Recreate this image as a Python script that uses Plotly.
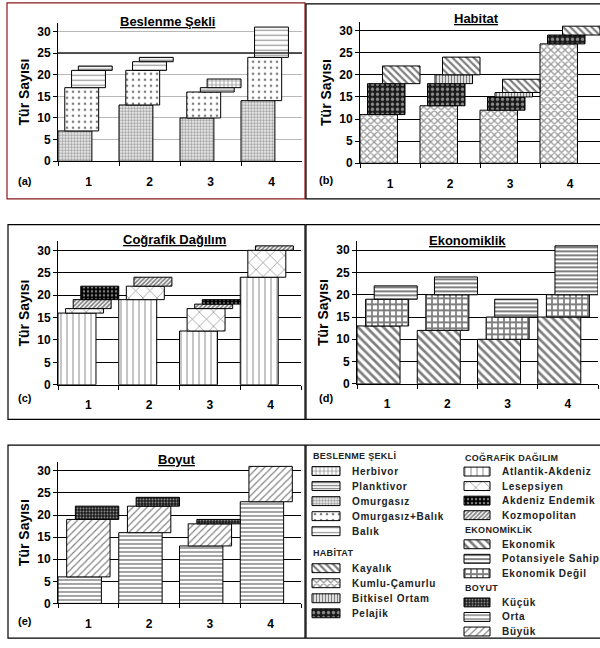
import plotly.graph_objects as go

W, H = 600, 648
FONT = "Liberation Sans, Arial, sans-serif"

categories = ["1", "2", "3", "4"]
y_ticks = [0, 5, 10, 15, 20, 25, 30]

# Beslenme Şekli (stacked bottom -> top)
bes_omurgasiz = [7, 13, 10, 14]
bes_omurgasiz_balik = [10, 8, 6, 10]
bes_balik = [4, 2, 0, 7]
bes_planktivor = [1, 1, 1, 0]
bes_herbivor = [0, 0, 2, 0]

# Habitat
hab_kumlu = [11, 13, 12, 27]
hab_pelajik = [7, 5, 3, 2]
hab_bitkisel = [0, 2, 1, 0]
hab_kayalik = [4, 4, 3, 2]

# Coğrafik Dağılım
cog_atlantik = [16, 19, 12, 24]
cog_lesepsiyen = [1, 3, 5, 6]
cog_kozmopolitan = [2, 2, 1, 1]
cog_endemik = [3, 0, 1, 0]

# Ekonomiklik
eko_ekonomik = [13, 12, 10, 15]
eko_degil = [6, 8, 5, 5]
eko_potansiyel = [3, 4, 4, 11]

# Boyut
boy_orta = [6, 16, 13, 23]
boy_buyuk = [13, 6, 5, 8]
boy_kucuk = [3, 2, 1, 0]

# fill pattern per group: shape, size, solidity, fg, bg
PATTERNS = {
    "Herbivor": ("+", 4, 0.3, "black", "white"),
    "Planktivor": ("-", 3, 0.4, "black", "white"),
    "Omurgasız": (".", 3, 0.6, "#444", "white"),
    "Omurgasız+Balık": (".", 6, 0.15, "black", "white"),
    "Balık": ("-", 5, 0.25, "#333", "white"),
    "Kayalık": ("\\", 5, 0.45, "black", "white"),
    "Kumlu-Çamurlu": ("x", 5, 0.45, "#333", "white"),
    "Bitkisel Ortam": ("|", 3, 0.5, "black", "white"),
    "Pelajik": (".", 5, 0.35, "white", "#1a1a1a"),
    "Atlantik-Akdeniz": ("|", 6, 0.15, "black", "white"),
    "Lesepsiyen": ("x", 10, 0.12, "black", "white"),
    "Akdeniz Endemik": (".", 4, 0.3, "white", "black"),
    "Kozmopolitan": ("/", 3, 0.55, "black", "white"),
    "Ekonomik": ("\\", 6, 0.45, "black", "white"),
    "Potansiyele Sahip": ("-", 4, 0.5, "black", "white"),
    "Ekonomik Değil": ("+", 6, 0.5, "black", "white"),
    "Küçük": (".", 3, 0.35, "white", "#1a1a1a"),
    "Orta": ("-", 4, 0.45, "#333", "white"),
    "Büyük": ("/", 5, 0.22, "black", "white"),
}


def marker_for(name):
    shape, size, sol, fg, bg = PATTERNS[name]
    return dict(color=bg, line=dict(color="black", width=1),
                pattern=dict(shape=shape, size=size, solidity=sol,
                             fgcolor=fg, bgcolor=bg, fillmode="overlay"))


def px(x):
    return x / W


def py(y):
    return 1 - y / H


panels = [
    dict(tag="(a)", title="Beslenme Şekli",
         series=[("Omurgasız", bes_omurgasiz), ("Omurgasız+Balık", bes_omurgasiz_balik),
                 ("Balık", bes_balik), ("Planktivor", bes_planktivor), ("Herbivor", bes_herbivor)],
         box=(58, 302, 163, 23), title_at=(167, 22), tag_at=(25, 183),
         frame=(7, 305, 3, 201), frame_color="#8b1a1a", grid="#b8b8b8"),
    dict(tag="(b)", title="Habitat",
         series=[("Kumlu-Çamurlu", hab_kumlu), ("Pelajik", hab_pelajik),
                 ("Bitkisel Ortam", hab_bitkisel), ("Kayalık", hab_kayalik)],
         box=(360, 600, 165, 22), title_at=(476, 19), tag_at=(326, 182),
         frame=(306, 602, 4, 201), frame_color="black", grid="black"),
    dict(tag="(c)", title="Coğrafik Dağılım",
         series=[("Atlantik-Akdeniz", cog_atlantik), ("Lesepsiyen", cog_lesepsiyen),
                 ("Kozmopolitan", cog_kozmopolitan), ("Akdeniz Endemik", cog_endemik)],
         box=(58, 301, 389, 244), title_at=(174, 242), tag_at=(25, 402),
         frame=(8, 305, 227, 424), frame_color="black", grid="black"),
    dict(tag="(d)", title="Ekonomiklik",
         series=[("Ekonomik", eko_ekonomik), ("Ekonomik Değil", eko_degil),
                 ("Potansiyele Sahip", eko_potansiyel)],
         box=(357, 598, 388, 244), title_at=(467, 243), tag_at=(326, 402),
         frame=(306, 602, 227, 424), frame_color="black", grid="black"),
    dict(tag="(e)", title="Boyut",
         series=[("Orta", boy_orta), ("Büyük", boy_buyuk), ("Küçük", boy_kucuk)],
         box=(58, 301, 610, 467), title_at=(177, 465), tag_at=(25, 628),
         frame=(8, 305, 450, 645), frame_color="black", grid="black"),
]

fig = go.Figure()
shapes, annotations = [], []
layout_axes = {}

for i, p in enumerate(panels):
    n = i + 1
    xa, ya = ("x", "y") if n == 1 else (f"x{n}", f"y{n}")
    xkey, ykey = ("xaxis", "yaxis") if n == 1 else (f"xaxis{n}", f"yaxis{n}")
    count = len(p["series"])
    width = 1 / (1 + 0.2 * (count - 1))
    step = 0.2 * width
    base = [0] * len(categories)
    for k, (name, vals) in enumerate(p["series"]):
        fig.add_bar(x=categories, y=[v if v else None for v in vals], base=list(base),
                    offset=-0.5 + k * step, width=width, name=name,
                    marker=marker_for(name), xaxis=xa, yaxis=ya, showlegend=False)
        base = [b + v for b, v in zip(base, vals)]

    left, right, bottom, top = p["box"]
    layout_axes[xkey] = dict(
        domain=[px(left), px(right)], anchor=ya, type="category",
        range=[-0.5, 3.5], showline=True, linecolor="black", linewidth=1,
        ticks="outside", tickson="boundaries", ticklen=4, tickcolor="black",
        showgrid=False, ticklabelstandoff=9,
        tickfont=dict(family=FONT, size=12, color="black", weight="bold"))
    layout_axes[ykey] = dict(
        domain=[py(bottom), py(top)], anchor=xa, range=[0, 32],
        tickvals=y_ticks, showline=True, linecolor="black", linewidth=1,
        ticks="outside", ticklen=4, tickcolor="black",
        showgrid=True, gridcolor=p["grid"], gridwidth=1, zeroline=False,
        tickfont=dict(family=FONT, size=12, color="black", weight="bold"),
        title=dict(text="Tür Sayısı", standoff=4,
                   font=dict(family=FONT, size=14, color="black", weight="bold")))

    fx0, fx1, fy0, fy1 = p["frame"]
    shapes.append(dict(type="rect", xref="paper", yref="paper",
                       x0=px(fx0), x1=px(fx1), y0=py(fy1), y1=py(fy0),
                       line=dict(color=p["frame_color"], width=1.2)))
    tx, ty = p["title_at"]
    annotations.append(dict(text=f"<u>{p['title']}</u>", x=px(tx), y=py(ty),
                            xref="paper", yref="paper", showarrow=False,
                            xanchor="center", yanchor="middle",
                            font=dict(family=FONT, size=13, color="black", weight="bold")))
    gx, gy = p["tag_at"]
    annotations.append(dict(text=p["tag"], x=px(gx), y=py(gy), xref="paper", yref="paper",
                            showarrow=False, xanchor="center", yanchor="middle",
                            font=dict(family=FONT, size=11, color="black", weight="bold")))

# darker reference line at 25 in the first panel
shapes.append(dict(type="line", xref="x domain", yref="y", x0=0, x1=1, y0=25, y1=25,
                   line=dict(color="#222", width=1.5)))

# key box
LEG = (306, 602, 450, 645)
shapes.append(dict(type="rect", xref="paper", yref="paper",
                   x0=px(LEG[0]), x1=px(LEG[1]), y0=py(LEG[3]), y1=py(LEG[2]),
                   line=dict(color="black", width=1.2)))

key_left = ["#BESLENME ŞEKLİ", "Herbivor", "Planktivor", "Omurgasız", "Omurgasız+Balık", "Balık",
            None, "#HABİTAT", "Kayalık", "Kumlu-Çamurlu", "Bitkisel Ortam", "Pelajik"]
key_right = ["#COĞRAFİK DAĞILIM", "Atlantik-Akdeniz", "Lesepsiyen", "Akdeniz Endemik", "Kozmopolitan",
             "#EKONOMİKLİK", "Ekonomik", "Potansiyele Sahip", "Ekonomik Değil",
             "#BOYUT", "Küçük", "Orta", "Büyük"]

key_columns = [
    dict(entries=key_left, start=461, step=15.2, gap=7, swatch=(312, 340), text_x=350),
    dict(entries=key_right, start=462, step=14.7, gap=7, swatch=(464, 490), text_x=500),
]

for col in key_columns:
    y = col["start"]
    s0, s1 = col["swatch"]
    for entry in col["entries"]:
        if entry is None:
            y += col["gap"]
            continue
        if entry.startswith("#"):
            annotations.append(dict(
                text=f'<span style="letter-spacing:0.3px">{entry[1:]}</span>',
                x=px(s0 - 1), y=py(y), xref="paper", yref="paper", showarrow=False,
                xanchor="left", yanchor="middle",
                font=dict(family=FONT, size=9, color="#222", weight="bold")))
        else:
            annotations.append(dict(
                text=f'<span style="letter-spacing:0.7px">{entry}</span>',
                x=px(col["text_x"]), y=py(y), xref="paper", yref="paper", showarrow=False,
                xanchor="left", yanchor="middle",
                font=dict(family=FONT, size=10, color="#222", weight="bold")))
            fig.add_bar(x=[(s0 + s1) / 2], y=[9], base=[y - 4.5], width=[s1 - s0],
                        name=entry, marker=marker_for(entry), xaxis="x6", yaxis="y6",
                        showlegend=False)
        y += col["step"]

layout_axes["xaxis6"] = dict(domain=[px(LEG[0]), 1], range=[LEG[0], W], anchor="y6",
                             visible=False, fixedrange=True)
layout_axes["yaxis6"] = dict(domain=[py(LEG[3]), py(LEG[2])], range=[LEG[3], LEG[2]],
                             anchor="x6", visible=False, fixedrange=True)

fig.update_layout(
    width=W, height=H, margin=dict(l=0, r=0, t=0, b=0),
    paper_bgcolor="white", plot_bgcolor="white", barmode="overlay",
    shapes=shapes, annotations=annotations, showlegend=False,
    font=dict(family=FONT, color="black"),
    **layout_axes,
)

fig.write_html("out.html")
